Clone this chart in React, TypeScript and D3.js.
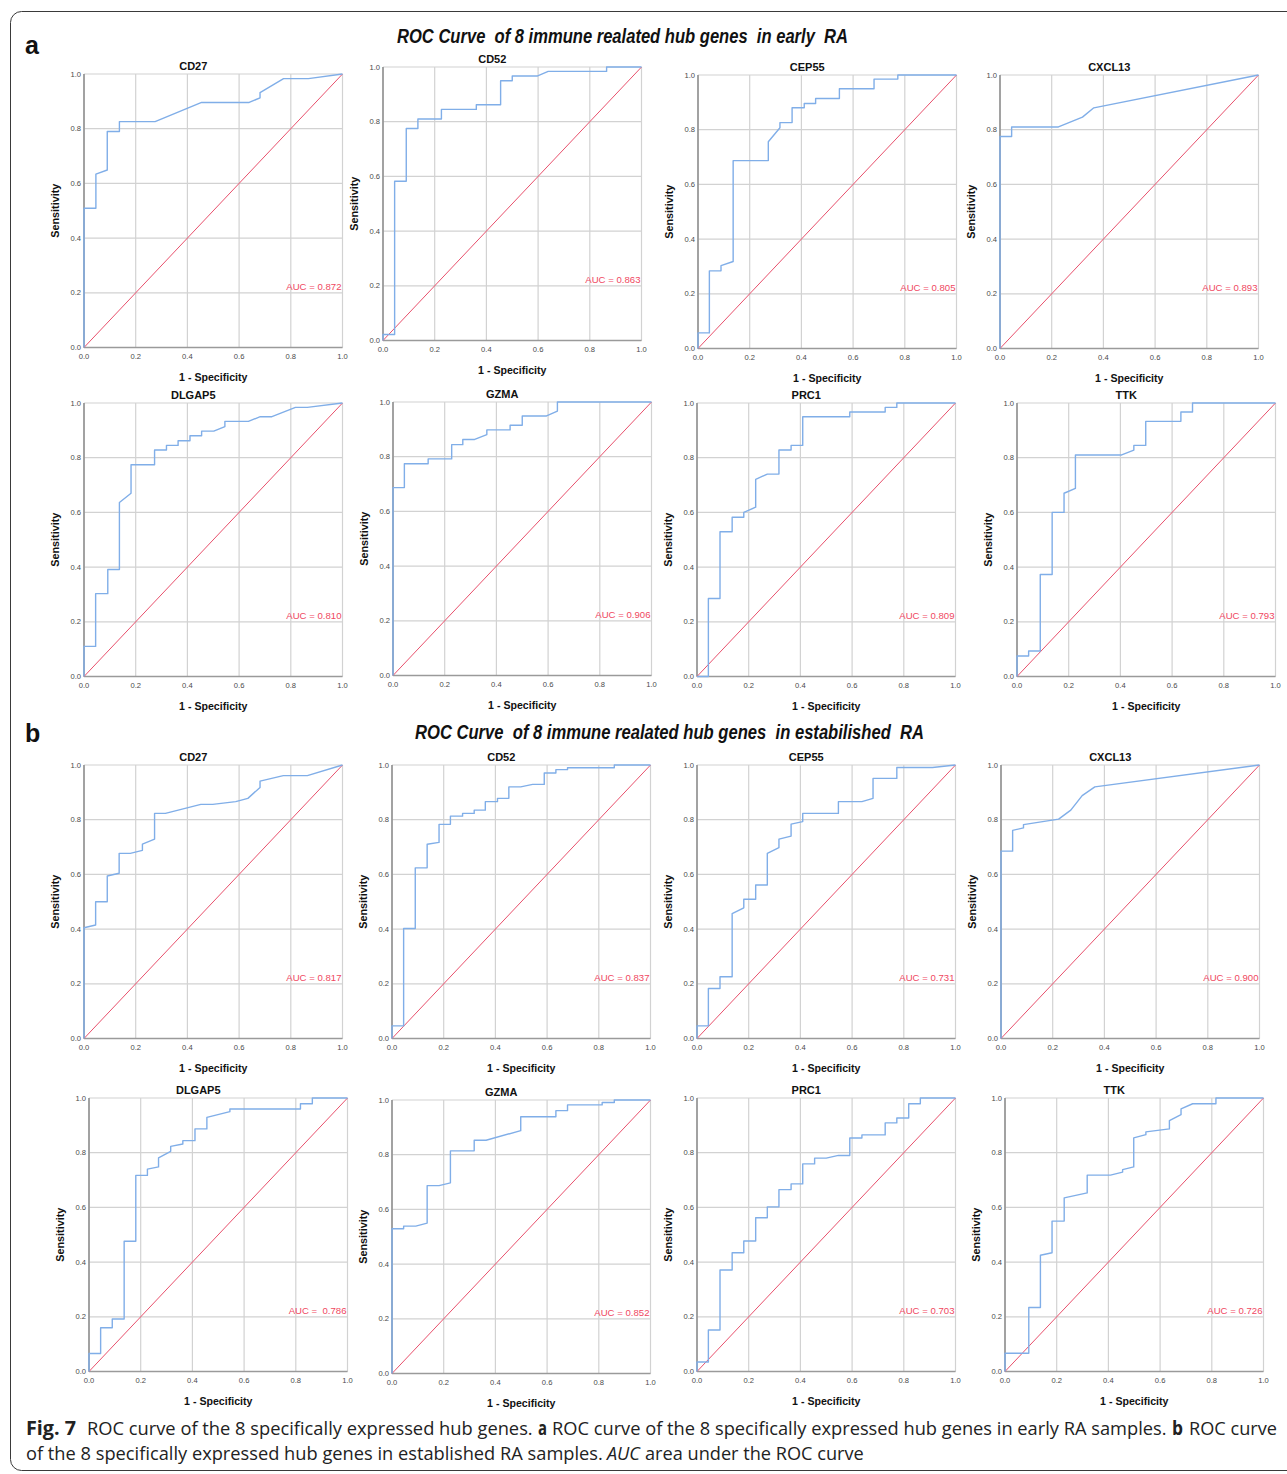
import { useLayoutEffect, useRef } from 'react';
import * as d3 from 'd3';

/**
 * Fig. 7 — ROC curves of the 8 immune related hub genes,
 * (a) early RA and (b) established RA. 16 small SPSS-style panels.
 */

type Pt = [number, number];

const GENES = ['CD27', 'CD52', 'CEP55', 'CXCL13', 'DLGAP5', 'GZMA', 'PRC1', 'TTK'];
const EARLY_AUC = ['0.872', '0.863', '0.805', '0.893', '0.810', '0.906', '0.809', '0.793'];
const ESTAB_AUC = ['0.817', '0.837', '0.731', '0.900', ' 0.786', '0.852', '0.703', '0.726'];
const TICKS = [0, 0.2, 0.4, 0.6, 0.8, 1.0];
const TICK_LABELS = ['0.0', '0.2', '0.4', '0.6', '0.8', '1.0'];

// [1 - specificity, sensitivity] vertices
const earlyCD27: Pt[] = [[0, 0], [0, 0.509], [0.046, 0.509], [0.046, 0.634], [0.09, 0.649], [0.09, 0.79], [0.137, 0.79], [0.137, 0.826], [0.275, 0.826], [0.455, 0.896], [0.639, 0.896], [0.681, 0.913], [0.681, 0.932], [0.772, 0.983], [0.868, 0.983], [1, 1]];
const earlyCD52: Pt[] = [[0, 0], [0, 0.022], [0.045, 0.022], [0.045, 0.582], [0.09, 0.582], [0.09, 0.775], [0.135, 0.775], [0.135, 0.81], [0.226, 0.81], [0.226, 0.845], [0.361, 0.845], [0.361, 0.862], [0.455, 0.862], [0.455, 0.95], [0.5, 0.95], [0.5, 0.967], [0.596, 0.967], [0.639, 0.984], [0.865, 0.984], [0.865, 1], [1, 1]];
const earlyCEP55: Pt[] = [[0, 0], [0, 0.057], [0.044, 0.057], [0.044, 0.284], [0.089, 0.284], [0.089, 0.303], [0.136, 0.318], [0.136, 0.687], [0.272, 0.687], [0.272, 0.756], [0.317, 0.807], [0.317, 0.826], [0.364, 0.826], [0.364, 0.88], [0.411, 0.88], [0.411, 0.896], [0.455, 0.896], [0.455, 0.914], [0.547, 0.914], [0.547, 0.95], [0.681, 0.95], [0.681, 0.985], [0.773, 0.985], [0.773, 1], [1, 1]];
const earlyCXCL13: Pt[] = [[0, 0], [0, 0.775], [0.045, 0.775], [0.045, 0.81], [0.226, 0.81], [0.319, 0.846], [0.363, 0.88], [1, 1]];
const earlyDLGAP5: Pt[] = [[0, 0], [0, 0.11], [0.045, 0.11], [0.045, 0.303], [0.092, 0.303], [0.092, 0.391], [0.137, 0.391], [0.137, 0.636], [0.182, 0.67], [0.182, 0.774], [0.273, 0.774], [0.273, 0.828], [0.319, 0.828], [0.319, 0.845], [0.364, 0.845], [0.364, 0.862], [0.41, 0.862], [0.41, 0.88], [0.455, 0.88], [0.455, 0.897], [0.502, 0.897], [0.545, 0.914], [0.545, 0.933], [0.636, 0.933], [0.682, 0.95], [0.727, 0.95], [0.818, 0.984], [0.864, 0.984], [1, 1]];
const earlyGZMA: Pt[] = [[0, 0], [0, 0.687], [0.044, 0.687], [0.044, 0.774], [0.136, 0.774], [0.136, 0.792], [0.227, 0.792], [0.227, 0.844], [0.27, 0.844], [0.27, 0.863], [0.316, 0.863], [0.363, 0.881], [0.363, 0.898], [0.453, 0.898], [0.453, 0.915], [0.5, 0.915], [0.5, 0.949], [0.594, 0.949], [0.636, 0.967], [0.636, 1], [1, 1]];
const earlyPRC1: Pt[] = [[0, 0], [0.044, 0], [0.044, 0.285], [0.089, 0.285], [0.089, 0.529], [0.136, 0.529], [0.136, 0.582], [0.181, 0.582], [0.181, 0.6], [0.227, 0.619], [0.227, 0.721], [0.272, 0.74], [0.317, 0.74], [0.317, 0.828], [0.364, 0.828], [0.364, 0.845], [0.409, 0.845], [0.409, 0.95], [0.591, 0.95], [0.591, 0.967], [0.728, 0.967], [0.728, 0.984], [0.773, 0.984], [0.773, 1], [1, 1]];
const earlyTTK: Pt[] = [[0, 0], [0, 0.075], [0.045, 0.075], [0.045, 0.093], [0.09, 0.093], [0.09, 0.373], [0.136, 0.373], [0.136, 0.6], [0.182, 0.6], [0.182, 0.67], [0.226, 0.688], [0.226, 0.81], [0.405, 0.81], [0.452, 0.828], [0.452, 0.845], [0.498, 0.845], [0.498, 0.933], [0.634, 0.933], [0.634, 0.967], [0.679, 0.967], [0.679, 1], [1, 1]];

const estabCD27: Pt[] = [[0, 0], [0, 0.405], [0.045, 0.415], [0.045, 0.5], [0.09, 0.5], [0.09, 0.594], [0.136, 0.604], [0.136, 0.677], [0.179, 0.677], [0.226, 0.688], [0.226, 0.711], [0.273, 0.729], [0.273, 0.823], [0.315, 0.823], [0.452, 0.856], [0.498, 0.856], [0.587, 0.866], [0.634, 0.878], [0.681, 0.918], [0.681, 0.941], [0.771, 0.961], [0.864, 0.961], [1, 1]];
const estabCD52: Pt[] = [[0, 0], [0, 0.046], [0.045, 0.046], [0.045, 0.402], [0.09, 0.402], [0.09, 0.624], [0.136, 0.624], [0.136, 0.71], [0.182, 0.717], [0.182, 0.783], [0.226, 0.783], [0.226, 0.813], [0.273, 0.813], [0.273, 0.823], [0.318, 0.823], [0.318, 0.835], [0.361, 0.835], [0.361, 0.866], [0.408, 0.866], [0.408, 0.878], [0.452, 0.878], [0.452, 0.92], [0.498, 0.92], [0.544, 0.929], [0.589, 0.929], [0.589, 0.971], [0.634, 0.971], [0.634, 0.983], [0.679, 0.983], [0.679, 0.99], [0.86, 0.99], [0.86, 1], [1, 1]];
const estabCEP55: Pt[] = [[0, 0], [0, 0.046], [0.044, 0.046], [0.044, 0.183], [0.089, 0.183], [0.089, 0.226], [0.136, 0.226], [0.136, 0.457], [0.181, 0.478], [0.181, 0.509], [0.227, 0.509], [0.227, 0.561], [0.272, 0.561], [0.272, 0.677], [0.317, 0.698], [0.317, 0.729], [0.364, 0.74], [0.364, 0.784], [0.409, 0.793], [0.409, 0.823], [0.547, 0.823], [0.547, 0.866], [0.638, 0.866], [0.681, 0.878], [0.681, 0.951], [0.773, 0.951], [0.773, 0.991], [0.911, 0.991], [1, 1]];
const estabCXCL13: Pt[] = [[0, 0], [0, 0.685], [0.045, 0.685], [0.045, 0.761], [0.087, 0.77], [0.087, 0.782], [0.223, 0.802], [0.27, 0.835], [0.314, 0.888], [0.363, 0.92], [1, 1]];
const estabDLGAP5: Pt[] = [[0, 0], [0, 0.066], [0.045, 0.066], [0.045, 0.16], [0.09, 0.16], [0.09, 0.192], [0.136, 0.192], [0.136, 0.476], [0.181, 0.476], [0.181, 0.717], [0.226, 0.717], [0.226, 0.74], [0.269, 0.748], [0.269, 0.781], [0.316, 0.805], [0.316, 0.823], [0.363, 0.832], [0.363, 0.844], [0.41, 0.844], [0.41, 0.887], [0.456, 0.887], [0.456, 0.929], [0.545, 0.95], [0.545, 0.96], [0.818, 0.96], [0.818, 0.979], [0.864, 0.979], [0.864, 1], [1, 1]];
const estabGZMA: Pt[] = [[0, 0], [0, 0.529], [0.045, 0.529], [0.045, 0.539], [0.092, 0.539], [0.136, 0.55], [0.136, 0.687], [0.182, 0.687], [0.226, 0.697], [0.226, 0.814], [0.318, 0.814], [0.318, 0.853], [0.364, 0.853], [0.498, 0.888], [0.498, 0.939], [0.634, 0.939], [0.634, 0.961], [0.679, 0.961], [0.679, 0.982], [0.813, 0.982], [0.813, 0.991], [0.86, 0.991], [0.86, 1], [1, 1]];
const estabPRC1: Pt[] = [[0, 0], [0, 0.035], [0.044, 0.035], [0.044, 0.152], [0.089, 0.152], [0.089, 0.371], [0.136, 0.371], [0.136, 0.434], [0.181, 0.434], [0.181, 0.477], [0.227, 0.477], [0.227, 0.562], [0.272, 0.562], [0.272, 0.602], [0.317, 0.602], [0.317, 0.665], [0.364, 0.665], [0.364, 0.686], [0.409, 0.686], [0.409, 0.759], [0.455, 0.759], [0.455, 0.78], [0.5, 0.78], [0.547, 0.79], [0.591, 0.79], [0.591, 0.854], [0.638, 0.854], [0.638, 0.865], [0.728, 0.865], [0.728, 0.909], [0.773, 0.909], [0.773, 0.927], [0.819, 0.927], [0.819, 0.979], [0.864, 0.979], [0.864, 1], [1, 1]];
const estabTTK: Pt[] = [[0, 0], [0, 0.067], [0.092, 0.067], [0.092, 0.234], [0.137, 0.234], [0.137, 0.425], [0.182, 0.434], [0.182, 0.55], [0.229, 0.55], [0.229, 0.635], [0.318, 0.653], [0.318, 0.718], [0.408, 0.718], [0.455, 0.729], [0.455, 0.738], [0.498, 0.748], [0.498, 0.854], [0.545, 0.866], [0.545, 0.876], [0.636, 0.887], [0.636, 0.917], [0.681, 0.939], [0.681, 0.96], [0.726, 0.979], [0.816, 0.979], [0.816, 1], [1, 1]];

const EARLY_CURVES = [earlyCD27, earlyCD52, earlyCEP55, earlyCXCL13, earlyDLGAP5, earlyGZMA, earlyPRC1, earlyTTK];
const ESTAB_CURVES = [estabCD27, estabCD52, estabCEP55, estabCXCL13, estabDLGAP5, estabGZMA, estabPRC1, estabTTK];

// caption pieces: [text, weight, style]
const CAPTION_LINE1: [string, string, string][] = [
  ['Fig. 7', 'bold', 'normal'],
  ['ROC curve of the 8 specifically expressed hub genes.', 'normal', 'normal'],
  ['a', 'bold', 'normal'],
  ['ROC curve of the 8 specifically expressed hub genes in early RA samples.', 'normal', 'normal'],
  ['b', 'bold', 'normal'],
  ['ROC curve', 'normal', 'normal'],
];
const CAPTION_LINE2: [string, string, string][] = [
  ['of the 8 specifically expressed hub genes in established RA samples.', 'normal', 'normal'],
  ['AUC', 'normal', 'italic'],
  ['area under the ROC curve', 'normal', 'normal'],
];

// plot-area placement of each panel (4 rows x 4 columns)
const PANEL_LEFT = [[84, 383, 698, 1000], [84, 393, 697, 1017], [84, 392, 697, 1001], [89, 392, 697, 1005]];
const PANEL_TOP = [[74, 67, 75, 75], [403, 402, 403, 403], [765, 765, 765, 765], [1098, 1100, 1098, 1098]];
const PANEL_W = 258.5;
const PANEL_H = 273.5;
// caption segment spans [x0, x1]
const CAP1_SPANS = [[26, 76], [87, 533], [538, 547], [552, 1167], [1172, 1183], [1189, 1277]];
const CAP2_SPANS = [[26, 603], [607, 640], [645, 864]];

const BLUE = '#80aee8';
const RED = '#e8506c';
const AUC_RED = '#f0485f';
const GRID = '#d2d2d2';
const FONT = 'Liberation Sans, Arial, sans-serif';

interface PanelProps {
  left: number;
  top: number;
  gene: string;
  auc: string;
  curve: Pt[];
}

function RocPanel({ left, top, gene, auc, curve }: PanelProps) {
  const x = d3.scaleLinear().domain([0, 1]).range([left, left + PANEL_W]);
  const y = d3.scaleLinear().domain([0, 1]).range([top + PANEL_H, top]);
  const line = d3.line<Pt>().x((d) => x(d[0])).y((d) => y(d[1]));
  const cx = left + PANEL_W / 2;
  const cy = top + PANEL_H / 2;

  return (
    <g fontFamily={FONT}>
      {/* grid */}
      {TICKS.map((t) => (
        <line key={`gx${t}`} x1={x(t)} x2={x(t)} y1={y(0)} y2={y(1)} stroke={GRID} strokeWidth={1.2} />
      ))}
      {TICKS.map((t) => (
        <line key={`gy${t}`} x1={x(0)} x2={x(1)} y1={y(t)} y2={y(t)} stroke={GRID} strokeWidth={1.2} />
      ))}
      {/* axes */}
      <line x1={x(0)} x2={x(1)} y1={y(0)} y2={y(0)} stroke="#9a9a9a" strokeWidth={1.3} />
      <line x1={x(0)} x2={x(0)} y1={y(0)} y2={y(1)} stroke="#8c8c8c" strokeWidth={1.5} />

      {/* reference diagonal */}
      <path d={line([[0, 0], [1, 1]]) ?? ''} stroke={RED} strokeWidth={1} fill="none" />
      {/* ROC curve */}
      <path d={line(curve) ?? ''} stroke={BLUE} strokeWidth={1.4} fill="none" strokeLinejoin="round" />

      {/* tick labels */}
      {TICKS.map((t, i) => (
        <text key={`ty${t}`} x={x(0) - 3} y={y(t) + 2.5} fontSize={7.6} fill="#4a4a4a" textAnchor="end">
          {TICK_LABELS[i]}
        </text>
      ))}
      {TICKS.map((t, i) => (
        <text key={`tx${t}`} x={x(t)} y={y(0) + 11} fontSize={7.6} fill="#4a4a4a" textAnchor="middle">
          {TICK_LABELS[i]}
        </text>
      ))}

      {/* labels */}
      <text x={cx - 20} y={top - 4} fontSize={11} fontWeight="bold" textAnchor="middle" fill="#111">
        {gene}
      </text>
      <text x={cx} y={y(0) + 33} fontSize={10.6} fontWeight="bold" textAnchor="middle" fill="#111">
        1 - Specificity
      </text>
      <text
        transform={`translate(${left - 25},${cy}) rotate(-90)`}
        fontSize={10.8}
        fontWeight="bold"
        textAnchor="middle"
        fill="#111"
      >
        Sensitivity
      </text>
      <text
        x={x(1) - 1}
        y={y(0.2) - 2.5}
        fontSize={9.6}
        fill={AUC_RED}
        textAnchor="end"
        style={{ whiteSpace: 'pre' }}
      >
        {`AUC = ${auc}`}
      </text>
    </g>
  );
}

// caption text squeezed horizontally to the span it holds in the reference
function FitText({ x0, x1, y, weight, style, children }: {
  x0: number; x1: number; y: number; weight: string; style: string; children: string;
}) {
  const ref = useRef<SVGTextElement>(null);
  useLayoutEffect(() => {
    if (!ref.current) return;
    const natural = ref.current.getComputedTextLength() || 1;
    const s = (x1 - x0) / natural;
    d3.select(ref.current).attr('transform', `translate(${x0},${y}) scale(${s},1)`);
  }, [x0, x1, y]);
  return (
    <text ref={ref} x={0} y={0} transform={`translate(${x0},${y})`} fontWeight={weight} fontStyle={style}>
      {children}
    </text>
  );
}

function CaptionLine({ parts, spans, y }: { parts: [string, string, string][]; spans: number[][]; y: number }) {
  return (
    <g fontFamily="Open Sans, Liberation Sans, sans-serif" fontSize={19} fill="#222">
      {parts.map(([txt, weight, style], i) => (
        <FitText key={i} x0={spans[i][0]} x1={spans[i][1]} y={y} weight={weight} style={style}>
          {txt}
        </FitText>
      ))}
    </g>
  );
}

export default function App() {
  const panels: PanelProps[] = [];
  [EARLY_CURVES, ESTAB_CURVES].forEach((curves, g) => {
    const aucs = g === 0 ? EARLY_AUC : ESTAB_AUC;
    curves.forEach((curve, i) => {
      const row = g * 2 + Math.floor(i / 4);
      const col = i % 4;
      panels.push({
        left: PANEL_LEFT[row][col],
        top: PANEL_TOP[row][col],
        gene: GENES[i],
        auc: aucs[i],
        curve,
      });
    });
  });

  const headFont = 'Liberation Sans Narrow, Liberation Sans, Arial, sans-serif';

  return (
    <div style={{ position: 'absolute', left: 0, top: 0, background: '#fff' }}>
      <svg width={1287} height={1474} style={{ display: 'block' }}>
        <rect x={0} y={0} width={1287} height={1474} fill="#fff" />
        <rect x={10.5} y={11.5} width={1320} height={1459} rx={11} fill="none" stroke="#3a3a3a" strokeWidth={1} />

        <text x={25} y={54} fontFamily={FONT} fontWeight="bold" fontSize={25} fill="#111">a</text>
        <text
          x={397}
          y={43}
          fontFamily={headFont}
          fontWeight="bold"
          fontStyle="italic"
          fontSize={20}
          textLength={451}
          lengthAdjust="spacingAndGlyphs"
          style={{ whiteSpace: 'pre' }}
          fill="#111"
        >
          ROC Curve  of 8 immune realated hub genes  in early  RA
        </text>

        <text x={25} y={742} fontFamily={FONT} fontWeight="bold" fontSize={25} fill="#111">b</text>
        <text
          x={415}
          y={739}
          fontFamily={headFont}
          fontWeight="bold"
          fontStyle="italic"
          fontSize={20}
          textLength={509}
          lengthAdjust="spacingAndGlyphs"
          style={{ whiteSpace: 'pre' }}
          fill="#111"
        >
          ROC Curve  of 8 immune realated hub genes  in estabilished  RA
        </text>

        {panels.map((p, i) => (
          <RocPanel key={i} {...p} />
        ))}

        {/* caption */}
        <CaptionLine parts={CAPTION_LINE1} spans={CAP1_SPANS} y={1435} />
        <CaptionLine parts={CAPTION_LINE2} spans={CAP2_SPANS} y={1460} />
      </svg>
    </div>
  );
}
